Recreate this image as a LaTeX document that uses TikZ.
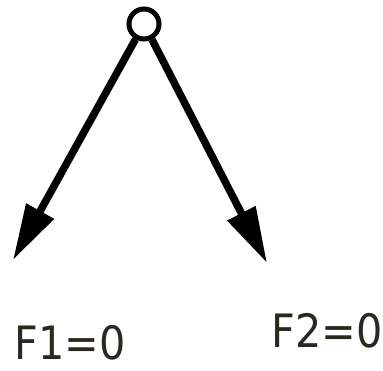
\documentclass[tikz,border=0pt]{standalone}
\usepackage{fontspec}
\newfontfamily\lblfont{DejaVu Sans Condensed}
\usepackage{tikz}
\usetikzlibrary{arrows.meta}
\definecolor{lbltext}{RGB}{43,41,31}

\begin{document}
\begin{tikzpicture}[x=1pt, y=-1pt,
  force/.style={line width=7.5pt, -{Triangle[length=56pt, width=30pt]}},
  lbl/.style={inner sep=0pt, anchor=base west, text=lbltext, font=\lblfont\fontsize{46}{50}\selectfont}]
\useasboundingbox (0,0) rectangle (383,370);
%pivot
\node[circle, draw, line width=5pt, minimum size=30pt, inner sep=0pt] (pivot) at (144,24) {};
\coordinate (tipL) at (13,260);
\coordinate (tipR) at (267,263);
%forces
\draw[force] (pivot) -- (tipL);
\draw[force] (pivot) -- (tipR);
%labels
\path (14,359) node[lbl] (f1) {F1=0};
\path (271,347) node[lbl] (f2) {F2=0};
\end{tikzpicture}
\end{document}
